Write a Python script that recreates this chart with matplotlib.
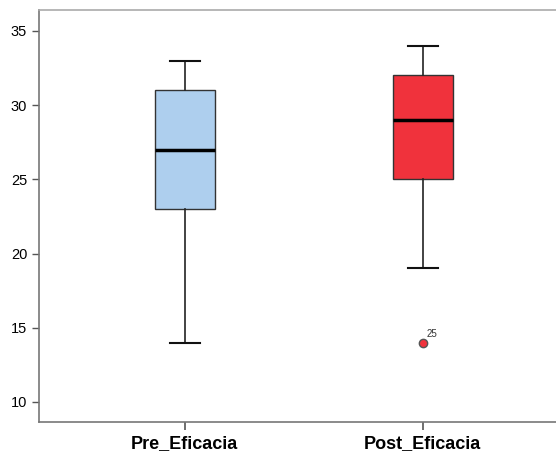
import matplotlib
matplotlib.use("Agg")
import matplotlib.pyplot as plt

plt.rcParams['font.family'] = ['Liberation Sans', 'DejaVu Sans']

labels = ["Pre_Eficacia", "Post_Eficacia"]
whislo = [14, 19]
q1 = [23, 25]
med = [27, 29]
q3 = [31, 32]
whishi = [33, 34]
outliers = [[], [14]]
outlier_ids = [[], ["25"]]
colors = ["#AECFEE", "#F0323C"]

stats = []
for i in range(len(labels)):
    stats.append(dict(label=labels[i], whislo=whislo[i], q1=q1[i], med=med[i],
                      q3=q3[i], whishi=whishi[i], fliers=outliers[i]))

fig = plt.figure(figsize=(5.56, 4.54), dpi=100)
ax = fig.add_axes([39 / 556, 32 / 454, 1 - 39 / 556, 412 / 454])

bp = ax.bxp(stats, positions=[1, 2], widths=0.25, patch_artist=True,
            boxprops=dict(edgecolor="#333333", linewidth=1),
            medianprops=dict(color="black", linewidth=2.5),
            whiskerprops=dict(color="#222222", linewidth=1.2),
            capprops=dict(color="#111111", linewidth=1.5),
            flierprops=dict(marker="o", markerfacecolor="#F0323C",
                            markeredgecolor="#555555", markersize=6),
            capwidths=0.125)
for patch, c in zip(bp["boxes"], colors):
    patch.set_facecolor(c)

for i, (vals, ids) in enumerate(zip(outliers, outlier_ids)):
    for v, t in zip(vals, ids):
        ax.annotate(t, (i + 1, v), xytext=(3, 4), textcoords="offset points",
                    fontsize=7, color="#333333")

ax.set_xlim(0.387, 2.56)
ax.set_ylim(8.65, 36.41)
ax.set_yticks([10, 15, 20, 25, 30, 35])
ax.set_xticks([1, 2])
ax.set_xticklabels(labels, fontsize=13, fontweight="bold")
ax.tick_params(axis="y", labelsize=10.5, length=5, color="#555555", width=1)
ax.tick_params(axis="x", length=6, color="#555555", width=1.2)
for s in ["left", "bottom", "top"]:
    ax.spines[s].set_color("#777777")
    ax.spines[s].set_linewidth(1.2)
ax.spines["top"].set_color("#aaaaaa")
ax.spines["right"].set_visible(False)

fig.savefig("out.png", dpi=100)
